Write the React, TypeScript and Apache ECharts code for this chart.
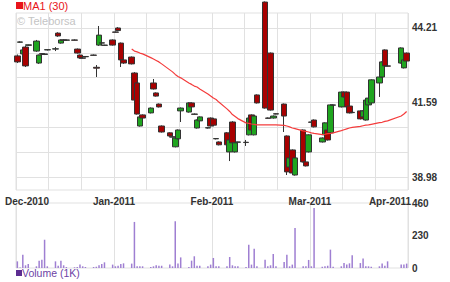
import React, { useEffect, useRef } from "react";
import * as echarts from "echarts";

// calendar slot (7 per week, weekends empty) of each trading day
const daySlot = [
  0, 1, 2, 3, 4, 7, 8, 9, 10, 11, 14, 15, 16, 17, 18, 21, 22, 23, 24, 25,
  28, 29, 30, 31, 32, 35, 36, 37, 38, 39, 42, 43, 44, 45, 46, 49, 50, 51, 52, 53,
  56, 57, 58, 59, 60, 63, 64, 65, 66, 67, 70, 71, 72, 73, 74, 77, 78, 79, 80, 81,
  84, 85, 86, 87, 88, 91, 92, 93, 94, 95, 98, 99, 100, 101, 102, 105, 106, 107, 108, 109,
  112, 113, 114, 115, 116, 119, 120, 121, 122, 123, 126, 127, 128, 129, 130, 133, 134, 135, 136,
  141, 142, 143,
];
const open = [
  43.23, 43.71, 43.30, 43.54, 43.60, 43.40, 42.98, 43.31, 43.28, 43.44, 43.47, 44.03, 43.68, 43.79, 43.78, 43.79, 43.47, 43.26, 43.16, 43.20,
  43.26, 42.83, 43.61, 43.68, 43.60, 43.79, 44.07, 44.21, 43.68, 43.09, 43.19, 42.63, 42.28, 40.77, 41.16, 41.23, 42.28, 41.93, 41.54, 40.77,
  40.53, 40.39, 40.04, 40.32, 41.30, 41.26, 41.58, 41.19, 40.70, 40.95, 40.70, 41.05, 41.02, 40.32, 40.21, 40.53, 39.86, 40.91, 39.86, 40.20,
  40.20, 40.46, 41.16, 40.46, 41.86, 45.12, 41.05, 43.33, 41.05, 41.20, 41.54, 40.42, 39.33, 39.93, 39.05, 40.63, 39.51, 39.86, 40.91, 40.98,
  40.21, 40.46, 40.63, 40.53, 41.50, 41.44, 41.96, 41.96, 41.47, 41.25, 41.30, 41.09, 40.98, 41.51, 41.58, 42.28, 42.49, 43.44, 42.88,
  42.98, 42.81, 43.33,
];
const high = [
  43.28, 43.74, 43.46, 43.58, 43.63, 43.79, 43.28, 43.33, 43.31, 43.46, 43.54, 44.06, 43.81, 43.81, 43.80, 43.81, 43.49, 43.28, 43.18, 43.22,
  43.28, 42.91, 44.28, 43.70, 43.62, 43.81, 44.09, 44.24, 43.70, 43.12, 43.21, 42.66, 42.30, 41.11, 41.18, 41.42, 42.42, 41.95, 41.56, 40.79,
  40.55, 40.41, 40.37, 40.65, 41.42, 41.60, 41.60, 41.21, 41.00, 41.11, 40.72, 41.07, 41.05, 40.34, 40.23, 40.56, 40.30, 40.94, 40.20, 40.22,
  40.28, 41.07, 41.18, 41.14, 41.88, 45.14, 41.07, 43.35, 41.14, 41.22, 41.56, 40.44, 39.67, 39.95, 39.67, 40.65, 39.53, 40.48, 40.96, 41.00,
  40.37, 40.90, 40.65, 41.53, 41.52, 41.98, 41.98, 41.98, 41.49, 41.27, 41.32, 41.32, 41.70, 41.77, 42.41, 42.51, 43.04, 43.46, 42.90,
  43.53, 43.11, 43.35,
];
const low = [
  42.98, 43.69, 43.28, 42.84, 43.58, 43.37, 42.95, 43.27, 43.26, 43.42, 43.40, 43.90, 43.66, 43.77, 43.76, 43.77, 43.31, 43.14, 43.14, 43.18,
  43.24, 42.49, 43.58, 43.66, 43.58, 43.59, 44.05, 44.10, 42.84, 42.95, 42.93, 41.66, 41.17, 40.75, 41.03, 41.21, 42.05, 41.80, 41.42, 40.54,
  40.40, 40.37, 40.02, 40.30, 40.91, 41.24, 41.42, 41.17, 40.68, 40.93, 40.68, 40.75, 40.76, 40.30, 40.09, 40.09, 39.54, 40.16, 39.84, 40.18,
  40.07, 40.44, 40.61, 40.44, 41.56, 41.38, 41.03, 41.31, 41.03, 41.18, 40.56, 39.05, 39.31, 39.05, 39.03, 39.49, 39.35, 39.84, 40.85, 40.72,
  40.19, 40.44, 40.26, 40.51, 41.48, 41.42, 41.77, 41.42, 41.21, 41.23, 41.00, 41.07, 40.96, 41.49, 41.56, 41.79, 42.47, 42.86, 42.86,
  42.96, 42.79, 43.03,
];
const close = [
  43.02, 43.72, 43.44, 42.88, 43.62, 43.75, 43.26, 43.29, 43.30, 43.45, 43.48, 43.93, 43.79, 43.78, 43.79, 43.78, 43.33, 43.16, 43.15, 43.21,
  43.25, 42.80, 43.96, 43.69, 43.61, 43.61, 44.06, 44.12, 43.09, 42.98, 42.95, 41.68, 41.19, 41.09, 41.05, 41.40, 42.07, 41.82, 41.44, 40.56,
  40.42, 40.38, 40.35, 40.63, 41.40, 41.58, 41.44, 41.18, 40.98, 41.09, 40.71, 40.77, 40.80, 40.33, 40.11, 40.11, 40.28, 40.18, 40.18, 40.21,
  40.19, 41.05, 40.63, 41.12, 41.58, 41.40, 41.04, 41.33, 41.12, 41.19, 41.12, 39.16, 39.65, 39.12, 39.65, 39.51, 39.37, 40.46, 40.90, 40.74,
  40.35, 40.88, 40.28, 41.51, 41.51, 41.96, 41.79, 41.44, 41.23, 41.24, 41.02, 41.30, 41.68, 41.75, 42.39, 42.49, 43.02, 42.88, 42.87,
  43.51, 43.09, 43.05,
];
const volume = [
  47, 4, 94, 19, 28, 12, 52, 59, 200, 12, 47, 16, 52, 19, 7, 5, 7, 24, 12, 7,
  7, 9, 19, 28, 40, 24, 12, 16, 28, 33, 31, 326, 12, 12, 12, 7, 12, 19, 16, 16,
  24, 12, 330, 31, 75, 7, 52, 83, 16, 16, 12, 24, 71, 12, 12, 12, 78, 19, 12, 12,
  7, 165, 24, 137, 12, 59, 12, 19, 99, 12, 42, 94, 12, 24, 283, 12, 12, 57, 12, 425,
  9, 12, 16, 130, 9, 12, 35, 24, 33, 90, 35, 68, 12, 12, 9, 12, 31, 16, 47,
  24, 24, 31,
];
const ma30 = [
  null, null, null, null, null, null, null, null, null, null, null, null, null, null, null, null, null, null, null, null,
  null, null, null, null, null, null, null, null, null, null, 43.47, 43.40, 43.37, 43.33, 43.30, 43.17, 43.12, 43.07, 43.02, 42.95,
  42.74, 42.67, 42.58, 42.51, 42.46, 42.28, 42.23, 42.17, 42.14, 42.07, 41.89, 41.82, 41.75, 41.70, 41.61, 41.37, 41.28, 41.17, 41.10, 41.03,
  40.88, 40.86, 40.84, 40.83, 40.81, 40.81, 40.81, 40.81, 40.81, 40.81, 40.79, 40.77, 40.74, 40.70, 40.68, 40.60, 40.58, 40.56, 40.53, 40.51,
  40.47, 40.48, 40.50, 40.51, 40.53, 40.61, 40.64, 40.67, 40.70, 40.72, 40.76, 40.78, 40.80, 40.81, 40.83, 40.89, 40.90, 40.93, 40.95,
  41.12, 41.19, 41.28,
];
const slotCount = 144;
const monthLabels = ["Dec-2010", "Jan-2011", "Feb-2011", "Mar-2011", "Apr-2011"];
const priceLabels = [38.98, 41.59, 44.21];
const priceGridLines = [38.98, 39.85, 40.72, 41.59, 42.47, 43.34, 44.21];
const volumeLabels = [0, 230, 460];

export default function App() {
  const ref = useRef<HTMLDivElement>(null);
  useEffect(() => {
    const chart = echarts.init(ref.current!, null, { renderer: "svg" });
    const cats = Array.from({ length: slotCount }, (_, i) => String(i));
    const candles = daySlot.map((s, i) => [s, open[i], close[i], low[i], high[i]]);
    const vols = daySlot.map((s, i) => [s, volume[i]]);
    const ma = daySlot
      .map((s, i) => [s, ma30[i]])
      .filter((d) => d[1] !== null);
    const gridColor = "#e1e1e1";
    const font = "'Liberation Sans', Arial, sans-serif";
    const labelColor = "#333";
    const hidden = { show: false };
    const lbl = { fontSize: 10, color: labelColor, fontFamily: font, fontWeight: "bold" as const };
    chart.setOption({
      animation: false,
      grid: [
        { left: 16, top: 13, width: 392, height: 177, show: true, borderColor: gridColor, borderWidth: 1 },
        { left: 16, top: 203, width: 392, height: 65, show: true, borderColor: gridColor, borderWidth: 1 },
      ],
      xAxis: [
        { type: "category", gridIndex: 0, data: cats, show: false, boundaryGap: true },
        {
          type: "value", gridIndex: 0, min: 0, max: 12, interval: 1,
          axisLine: hidden, axisTick: hidden, axisLabel: hidden,
          splitLine: { show: true, lineStyle: { color: gridColor, width: 1 } },
        },
        {
          type: "value", gridIndex: 0, min: 0, max: 4, interval: 1, position: "bottom",
          axisLine: hidden, axisTick: hidden, splitLine: hidden,
          axisLabel: {
            show: true, margin: 6, ...lbl,
            showMinLabel: true, showMaxLabel: true, hideOverlap: false,
            formatter: (v: number) => {
              const t = monthLabels[Math.round(v)] || "";
              if (v === 0) return "{l|" + t + "}";
              if (v === 4) return "{r|" + t + "}";
              return "{c|" + t + "}";
            },
            rich: {
              l: { padding: [0, 0, 0, 22], ...lbl },
              r: { padding: [0, 36, 0, 0], ...lbl },
              c: { ...lbl },
            },
          },
        },
        { type: "category", gridIndex: 1, data: cats, show: false, boundaryGap: true },
        {
          type: "value", gridIndex: 1, min: 0, max: 4, interval: 1,
          axisLine: hidden, axisTick: hidden, axisLabel: hidden,
          splitLine: { show: true, lineStyle: { color: gridColor, width: 1 } },
        },
      ],
      yAxis: [
        {
          type: "value", gridIndex: 0, position: "right", min: 38.524, max: 44.736,
          axisLine: hidden,
          axisTick: { show: false, customValues: priceGridLines },
          axisLabel: {
            customValues: priceLabels, margin: 4, ...lbl,
            formatter: (v: number) => v.toFixed(2),
          },
          splitLine: { show: true, lineStyle: { color: gridColor, width: 1 } },
        },
        {
          type: "value", gridIndex: 1, position: "right", min: 0, max: 460,
          axisLine: hidden,
          axisTick: { show: false, customValues: volumeLabels },
          axisLabel: { customValues: volumeLabels, margin: 4, ...lbl },
          splitLine: hidden,
        },
      ],
      graphic: [
        { type: "rect", shape: { x: 16, y: 2, width: 7, height: 7 }, style: { fill: "#e8141b" } },
        { type: "text", x: 23, y: 6, style: { text: "MA1 (30)", fill: "#e8141b", fontSize: 11, fontFamily: font, verticalAlign: "middle" } },
        { type: "text", x: 17, y: 21, style: { text: "© Teleborsa", fill: "#c4c4c4", fontSize: 11, fontFamily: font, verticalAlign: "middle" } },
        { type: "rect", shape: { x: 16, y: 270, width: 6, height: 6 }, style: { fill: "#5c2d91" } },
        { type: "text", x: 22, y: 273, style: { text: "Volume (1K)", fill: "#6c3fa5", fontSize: 10.5, fontFamily: font, verticalAlign: "middle" } },
      ],
      series: [
        {
          type: "candlestick", xAxisIndex: 0, yAxisIndex: 0, data: candles,
          encode: { x: 0, y: [1, 2, 3, 4] }, barWidth: 6,
          itemStyle: { color: "#1fa51f", color0: "#a80000", borderColor: "#333", borderColor0: "#333", borderWidth: 1 },
        },
        {
          type: "line", xAxisIndex: 0, yAxisIndex: 0, data: ma, showSymbol: false,
          lineStyle: { color: "#f43c3c", width: 1.2 }, z: 3,
        },
        {
          type: "bar", xAxisIndex: 3, yAxisIndex: 1, data: vols, barWidth: 1.5,
          itemStyle: { color: "#9f7fd2" },
        },
      ],
    });
    return () => chart.dispose();
  }, []);
  return <div ref={ref} style={{ position: "absolute", left: 0, top: 0, width: 450, height: 282 }} />;
}
